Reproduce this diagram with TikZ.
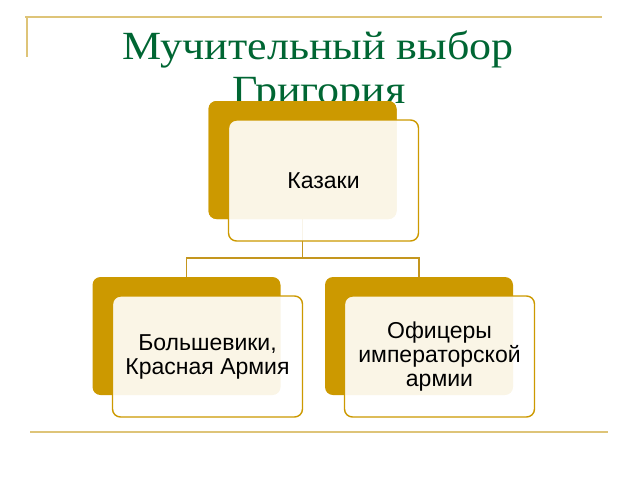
\documentclass[tikz,border=0pt]{standalone}
\usepackage{fontspec}
\setmainfont{Liberation Serif}
\newfontfamily\arialf{Liberation Sans}
\newfontfamily\titlef[FakeStretch=1.1]{Liberation Serif}
\definecolor{gold}{RGB}{204,153,0}
\definecolor{decoline}{RGB}{222,196,120}
\definecolor{titlegreen}{RGB}{0,102,51}
\definecolor{connc}{RGB}{196,150,30}
\tikzset{
  backbox/.style={fill=gold, rounded corners=8pt, minimum width=188pt, minimum height=118pt, inner sep=0pt},
  frontbox/.style={draw=gold, line width=1.4pt, fill=white, fill opacity=0.9, rounded corners=8pt, minimum width=190pt, minimum height=121pt, inner sep=0pt},
  boxtext/.style={font=\arialf\fontsize{23}{24}\selectfont, text=black, align=center, text opacity=1},
  deco/.style={draw=decoline, line width=2.2pt},
  conn/.style={draw=connc, line width=1.6pt},
  titletext/.style={font=\titlef\fontsize{40}{44}\selectfont, text=titlegreen, inner sep=0pt, anchor=base}
}
\begin{document}
\begin{tikzpicture}[x=1pt,y=-1pt]
\useasboundingbox (0,0) rectangle (640,480);
% decorative frame lines
\coordinate (d1) at (25,17);
\coordinate (d2) at (602,17);
\coordinate (d3) at (27,57);
\coordinate (d4) at (30,432);
\coordinate (d5) at (608,432);
\draw[deco] (d1) -- (d2);
\draw[deco] (27,16) -- (d3);
\draw[deco] (d4) -- (d5);
% title
\node[titletext] (t1) at (318,59) {Мучительный выбор};
\node[titletext] (t2) at (319,103) {Григория};
% back boxes
\node[backbox] (kb) at (302.5,160) {};
\node[backbox] (lb) at (186.5,336) {};
\node[backbox] (rb) at (419,336) {};
% connectors
\coordinate (j) at (302.5,258);
\draw[conn] (kb.center) -- (j);
\draw[conn] (lb.north) |- (j) -| (rb.north);
% redraw back box over connector
\node[backbox] at (kb) {};
% front boxes
\node[frontbox] (kf) at (323.5,180.5) {};
\node[frontbox] (lf) at (207.5,356.5) {};
\node[frontbox] (rf) at (439.5,356.5) {};
% texts
\node[boxtext] (kt) at (kf) {Казаки};
\node[boxtext] (lt) at (lf) {Большевики,\\Красная Армия};
\node[boxtext] (rt) at (rf) {Офицеры\\императорской\\армии};
\end{tikzpicture}
\end{document}
